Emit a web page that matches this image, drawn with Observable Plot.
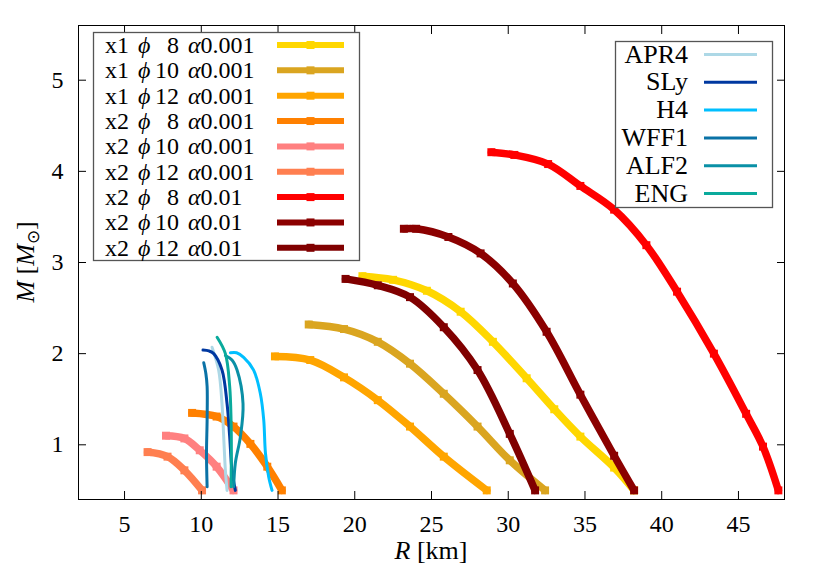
<!DOCTYPE html>
<html>
<head>
<meta charset="utf-8">
<script src="https://cdn.jsdelivr.net/npm/d3@7"></script>
<script src="https://cdn.jsdelivr.net/npm/@observablehq/plot@0.6"></script>
<style>
  body { margin: 0; background: #fff; }
</style>
</head>
<body>
<div id="chart"></div>
<script>
// ---------- data ----------
const xTicks = [5, 10, 15, 20, 25, 30, 35, 40, 45];
const yTicks = [1, 2, 3, 4, 5];

// thick model curves (legend order)
const modelX = ["x1", "x1", "x1", "x2", "x2", "x2", "x2", "x2", "x2"];
const modelPhi = ["8", "10", "12", "8", "10", "12", "8", "10", "12"];
const modelAlpha = ["0.001", "0.001", "0.001", "0.001", "0.001", "0.001", "0.01", "0.01", "0.01"];
const modelColors = ["#FFD700", "#DAA520", "#FFA500", "#FF8000", "#FF8080", "#FF7F50", "#FF0000", "#8B0000", "#800000"];

const R_x1_phi8_a0001 = [20.5, 22.5, 24.7, 26.9, 29.0, 31.2, 33.0, 34.7, 36.9, 38.2];
const M_x1_phi8_a0001 = [2.85, 2.81, 2.69, 2.46, 2.13, 1.73, 1.39, 1.09, 0.75, 0.50];
const R_x1_phi10_a0001 = [17.0, 19.3, 21.5, 23.6, 25.8, 28.0, 30.1, 32.4];
const M_x1_phi10_a0001 = [2.32, 2.27, 2.13, 1.89, 1.56, 1.20, 0.83, 0.50];
const R_x1_phi12_a0001 = [14.8, 17.1, 19.3, 21.5, 23.6, 25.8, 28.6];
const M_x1_phi12_a0001 = [1.97, 1.93, 1.74, 1.49, 1.20, 0.87, 0.50];
const R_x2_phi8_a0001 = [9.4, 11.0, 12.1, 13.2, 14.3, 15.25];
const M_x2_phi8_a0001 = [1.35, 1.31, 1.20, 1.01, 0.76, 0.50];
const R_x2_phi10_a0001 = [7.7, 8.9, 9.9, 11.0, 12.1];
const M_x2_phi10_a0001 = [1.10, 1.07, 0.94, 0.76, 0.50];
const R_x2_phi12_a0001 = [6.5, 7.8, 8.9, 10.05];
const M_x2_phi12_a0001 = [0.92, 0.87, 0.72, 0.50];
const R_x2_phi8_a001 = [28.9, 30.4, 32.6, 34.7, 36.9, 39.0, 41.0, 43.4, 45.5, 46.6, 47.6];
const M_x2_phi8_a001 = [4.21, 4.18, 4.08, 3.84, 3.58, 3.19, 2.68, 2.00, 1.34, 0.98, 0.50];
const R_x2_phi10_a001 = [23.2, 24.0, 26.1, 28.2, 30.3, 32.5, 34.7, 36.9, 38.2];
const M_x2_phi10_a001 = [3.37, 3.37, 3.28, 3.10, 2.77, 2.24, 1.55, 0.88, 0.50];
const R_x2_phi12_a001 = [19.4, 21.5, 23.6, 25.8, 28.0, 30.1, 31.75];
const M_x2_phi12_a001 = [2.82, 2.75, 2.62, 2.29, 1.82, 1.12, 0.50];

const modelR = [R_x1_phi8_a0001, R_x1_phi10_a0001, R_x1_phi12_a0001, R_x2_phi8_a0001, R_x2_phi10_a0001, R_x2_phi12_a0001, R_x2_phi8_a001, R_x2_phi10_a001, R_x2_phi12_a001];
const modelM = [M_x1_phi8_a0001, M_x1_phi10_a0001, M_x1_phi12_a0001, M_x2_phi8_a0001, M_x2_phi10_a0001, M_x2_phi12_a0001, M_x2_phi8_a001, M_x2_phi10_a001, M_x2_phi12_a001];

// thin EOS curves
const eosNames = ["APR4", "SLy", "H4", "WFF1", "ALF2", "ENG"];
const eosColors = ["#ADD8E6", "#0038A0", "#00BFFF", "#0A72A6", "#0A90A6", "#0AAA9C"];
const R_APR4 = [10.7, 11.13, 11.35, 11.46, 11.57, 11.68];
const M_APR4 = [2.07, 1.82, 1.45, 1.09, 0.72, 0.50];
const R_SLy = [10.11, 10.5, 10.81, 11.35, 11.68, 11.85, 12.0, 12.22];
const M_SLy = [2.04, 2.03, 2.0, 1.82, 1.45, 1.09, 0.72, 0.50];
const R_H4 = [11.9, 12.3, 12.76, 13.41, 13.85, 14.07, 14.18, 14.39, 14.61];
const M_H4 = [2.01, 2.01, 1.96, 1.82, 1.56, 1.27, 0.91, 0.65, 0.50];
const R_WFF1 = [10.16, 10.3, 10.38, 10.38, 10.34, 10.38];
const M_WFF1 = [1.90, 1.78, 1.64, 1.27, 0.91, 0.54];
const R_ALF2 = [11.57, 12.0, 12.33, 12.72, 12.55, 12.22, 12.11];
const M_ALF2 = [1.98, 1.93, 1.82, 1.45, 1.09, 0.80, 0.54];
const R_ENG = [11.03, 11.57, 11.85, 11.94, 11.96, 11.94];
const M_ENG = [2.18, 2.0, 1.64, 1.27, 0.91, 0.54];
const eosR = [R_APR4, R_SLy, R_H4, R_WFF1, R_ALF2, R_ENG];
const eosM = [M_APR4, M_SLy, M_H4, M_WFF1, M_ALF2, M_ENG];

// ---------- build ----------
const FONT = "Liberation Serif, Times New Roman, serif";
const modelNames = modelX.map((x, i) => `${x} phi${modelPhi[i]} a${modelAlpha[i]}`);
const modelRows = modelNames.map((s, i) => modelR[i].map((r, j) => ({series: s, R: r, M: modelM[i][j]})));
const eosRows = eosNames.map((s, i) => eosR[i].map((r, j) => ({series: s, R: r, M: eosM[i][j]})));

const modelMarks = modelRows.flatMap((rows) => [
  Plot.line(rows, {x: "R", y: "M", stroke: "series", strokeWidth: 7.5, curve: "catmull-rom"}),
  Plot.dot(rows, {x: "R", y: "M", fill: "series", symbol: "square", r: 4.5})
]);
const eosMarks = eosRows.map((rows) =>
  Plot.line(rows, {x: "R", y: "M", stroke: "series", strokeWidth: 3, curve: "catmull-rom"})
);

const fmt = (d) => String(d);
const plot = Plot.plot({
  width: 830,
  height: 581,
  marginLeft: 78,
  marginRight: 46,
  marginTop: 25,
  marginBottom: 82,
  style: {fontFamily: FONT, fontSize: "24px", background: "white", color: "black"},
  x: {domain: [2, 48]},
  y: {domain: [0.4, 5.6]},
  color: {domain: [...modelNames, ...eosNames], range: [...modelColors, ...eosColors]},
  marks: [
    ...modelMarks,
    ...eosMarks,
    Plot.frame({stroke: "black"}),
    Plot.axisX(xTicks, {anchor: "bottom", tickSize: 0, tickPadding: 15, tickFormat: fmt, label: null}),
    Plot.axisX(xTicks, {anchor: "bottom", tickSize: -8, fill: "none", label: null}),
    Plot.axisX(xTicks, {anchor: "top", tickSize: -8, fill: "none", label: null}),
    Plot.axisY(yTicks, {anchor: "left", tickSize: 0, tickPadding: 15, tickFormat: fmt, label: null}),
    Plot.axisY(yTicks, {anchor: "left", tickSize: -8, fill: "none", label: null}),
    Plot.axisY(yTicks, {anchor: "right", tickSize: -8, fill: "none", label: null})
  ]
});
document.getElementById("chart").appendChild(plot);

// ---------- legends & axis labels ----------
const svg = d3.select(plot);
const fsz = 24;
const fszWords = 26;

// model legend
const lg1 = svg.append("g").attr("font-family", FONT).attr("font-size", fsz).attr("text-anchor", "start");
lg1.append("rect").attr("x", 93.5).attr("y", 32.5).attr("width", 266).attr("height", 228)
  .attr("fill", "white").attr("stroke", "#555").attr("stroke-width", 1.3);
modelNames.forEach((s, i) => {
  const cy = 45 + i * 25.35;
  const by = cy + 7.8;
  lg1.append("text").attr("x", 105).attr("y", by).attr("text-anchor", "start").text(modelX[i]);
  lg1.append("text").attr("x", 138).attr("y", by).attr("text-anchor", "start").attr("font-style", "italic").text("ϕ");
  lg1.append("text").attr("x", 179).attr("y", by).attr("text-anchor", "end").text(modelPhi[i]);
  const t = lg1.append("text").attr("x", 188).attr("y", by).attr("text-anchor", "start");
  t.append("tspan").attr("font-style", "italic").text("α");
  t.append("tspan").text(modelAlpha[i]);
  lg1.append("line").attr("x1", 277).attr("x2", 344).attr("y1", cy).attr("y2", cy)
    .attr("stroke", modelColors[i]).attr("stroke-width", 6);
  lg1.append("rect").attr("x", 306.5).attr("y", cy - 4).attr("width", 8).attr("height", 8)
    .attr("fill", modelColors[i]);
});

// EOS legend
const lg2 = svg.append("g").attr("font-family", FONT).attr("font-size", fszWords);
lg2.append("rect").attr("x", 615.5).attr("y", 41.5).attr("width", 157).attr("height", 166)
  .attr("fill", "white").attr("stroke", "#555").attr("stroke-width", 1.3);
eosNames.forEach((s, i) => {
  const cy = 54.5 + i * 27.8;
  lg2.append("text").attr("x", 688).attr("y", cy + 8).attr("text-anchor", "end").text(s);
  lg2.append("line").attr("x1", 704).attr("x2", 757).attr("y1", cy).attr("y2", cy)
    .attr("stroke", eosColors[i]).attr("stroke-width", 3);
});

// axis labels
const yl = svg.append("text").attr("font-family", FONT).attr("font-size", fszWords)
  .attr("text-anchor", "middle").attr("transform", "translate(34,262) rotate(-90)");
yl.append("tspan").attr("font-style", "italic").text("M");
yl.append("tspan").text(" [");
yl.append("tspan").attr("font-style", "italic").text("M");
yl.append("tspan").attr("font-size", 17).attr("dy", 5).text("⊙");
yl.append("tspan").attr("dy", -5).text("]");

const xl = svg.append("text").attr("font-family", FONT).attr("font-size", fszWords)
  .attr("text-anchor", "middle").attr("x", 431).attr("y", 559);
xl.append("tspan").attr("font-style", "italic").text("R");
xl.append("tspan").text(" [km]");
</script>
</body>
</html>
